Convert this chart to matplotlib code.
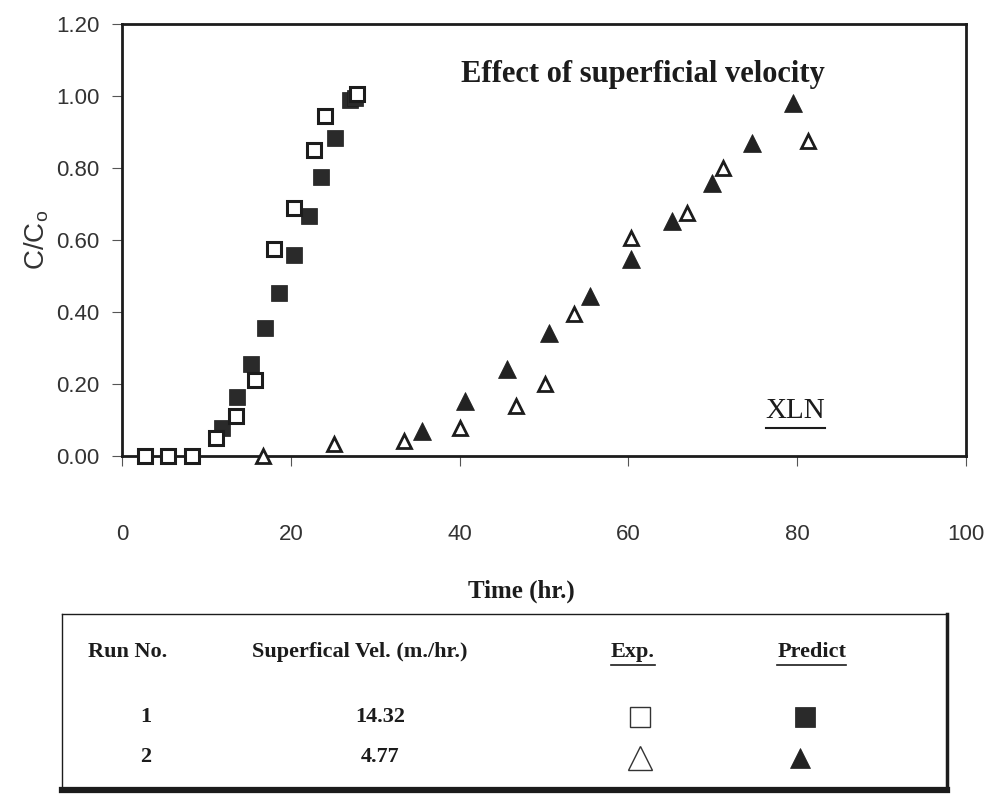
import numpy as np
import matplotlib
matplotlib.use("Agg")
import matplotlib.pyplot as plt
from matplotlib.lines import Line2D

# breakthrough data, C/Co vs time (hr.)
run1_exp_t = [2.7, 5.5, 8.3, 11.1, 13.5, 15.7, 18.0, 20.4, 22.7, 24.1, 27.8]
run1_exp_c = [0.00, 0.00, 0.00, 0.05, 0.11, 0.21, 0.575, 0.69, 0.85, 0.945, 1.005]
run1_pre_t = [8.3, 11.9, 13.6, 15.3, 17.0, 18.6, 20.4, 22.1, 23.6, 25.2, 27.0, 27.6]
run1_pre_c = [0.00, 0.078, 0.164, 0.255, 0.355, 0.453, 0.558, 0.667, 0.775, 0.883, 0.99, 0.995]
run2_exp_t = [16.7, 25.1, 33.4, 40.1, 46.7, 50.1, 53.6, 60.3, 67.0, 71.2, 81.3]
run2_exp_c = [0.00, 0.033, 0.042, 0.078, 0.139, 0.20, 0.394, 0.606, 0.675, 0.80, 0.875]
run2_pre_t = [35.6, 40.6, 45.6, 50.6, 55.5, 60.3, 65.2, 69.9, 74.7, 79.5]
run2_pre_c = [0.069, 0.153, 0.242, 0.342, 0.444, 0.547, 0.653, 0.758, 0.869, 0.98]

runs = ["1", "2"]
velocities = ["14.32", "4.77"]
xticks = [0, 20, 40, 60, 80, 100]
yticks = [0.0, 0.2, 0.4, 0.6, 0.8, 1.0, 1.2]

W, H = 987, 800
serif = "Liberation Serif"
sans = "Liberation Sans"
ink = "#1c1c1c"

fig = plt.figure(figsize=(W / 100, H / 100), dpi=100)


def fx(px):
    return px / W


def fy(py):
    return 1 - py / H


def underline(txt, gap=3, lw=1.3):
    fig.canvas.draw()
    bb = txt.get_window_extent()
    y = bb.y0 - gap
    fig.add_artist(Line2D([bb.x0 / W, bb.x1 / W], [y / H, y / H],
                          transform=fig.transFigure, color=ink, lw=lw))


# main plot
ax = fig.add_axes([fx(122), fy(456), fx(966) - fx(122), fy(24) - fy(456)])
ax.plot(run1_exp_t, run1_exp_c, ls="none", marker="s", ms=10, mew=2.2,
        mfc="white", mec=ink, zorder=3, clip_on=False)
ax.plot(run1_pre_t, run1_pre_c, ls="none", marker="s", ms=11.5, mew=0.5,
        mfc="#2a2a2a", mec=ink, zorder=2, clip_on=False)
ax.plot(run2_exp_t, run2_exp_c, ls="none", marker="^", ms=10, mew=2.0,
        mfc="white", mec=ink, zorder=3, clip_on=False)
ax.plot(run2_pre_t, run2_pre_c, ls="none", marker="^", ms=13, mew=0.5,
        mfc="#222222", mec=ink, zorder=2, clip_on=False)

ax.set_xlim(0, 100)
ax.set_ylim(0, 1.2)
ax.set_xticks(xticks)
ax.set_yticks(yticks)
ax.set_yticklabels(["%.2f" % v for v in yticks])
for s in ax.spines.values():
    s.set_linewidth(2.0)
    s.set_color(ink)
ax.tick_params(axis="y", direction="out", length=7, width=0.8, color="#555555",
               pad=9, labelsize=16, labelcolor="#333333")
ax.tick_params(axis="x", direction="out", length=7, width=0.8, color="#555555",
               pad=42, labelsize=16, labelcolor="#333333")
for lab in ax.get_xticklabels() + ax.get_yticklabels():
    lab.set_family(sans)

ax.set_ylabel("C/C$_\\mathregular{o}$", family=sans, fontsize=20,
              color="#333333", labelpad=4)
ax.text(0.617, 0.866, "Effect of superficial velocity", transform=ax.transAxes,
        ha="center", va="baseline", family=serif, weight="bold", fontsize=22,
        color=ink)
xln = ax.text(0.798, 0.088, "XLN", transform=ax.transAxes, ha="center",
              va="baseline", family=serif, fontsize=21, color=ink)

fig.text(fx(521), fy(598), "Time (hr.)", ha="center", va="baseline",
         family=serif, weight="bold", fontsize=18, color=ink)

# key table below the plot
tb = fig.add_axes([fx(62), fy(790), fx(947) - fx(62), fy(614) - fy(790)])
tb.set_xlim(62, 947)
tb.set_ylim(790, 614)
tb.set_xticks([])
tb.set_yticks([])
tb.spines["top"].set_linewidth(1.0)
tb.spines["left"].set_linewidth(1.0)
tb.spines["right"].set_linewidth(2.5)
tb.spines["bottom"].set_linewidth(4.5)
for s in tb.spines.values():
    s.set_color(ink)

hdr = dict(va="center", ha="center", family=serif, weight="bold",
           fontsize=16, color=ink)
tb.text(128, 652, "Run No.", **hdr)
tb.text(360, 652, "Superfical Vel. (m./hr.)", **hdr)
exp_t = tb.text(633, 652, "Exp.", **hdr)
pre_t = tb.text(812, 652, "Predict", **hdr)

row_y = [717, 757]
for r, v, yy in zip(runs, velocities, row_y):
    tb.text(146, yy, r, **hdr)
    tb.text(380, yy, v, **hdr)

tb.plot([640], [row_y[0]], ls="none", marker="s", ms=15, mew=1.0,
        mfc="white", mec="#333333")
tb.plot([805], [row_y[0]], ls="none", marker="s", ms=14, mew=0.5,
        mfc="#2a2a2a", mec=ink)
tb.plot([640], [row_y[1] + 1], ls="none", marker="^", ms=17, mew=1.0,
        mfc="white", mec="#333333")
tb.plot([800], [row_y[1] + 1], ls="none", marker="^", ms=15, mew=0.5,
        mfc="#222222", mec=ink)

underline(xln, gap=4, lw=1.5)
underline(exp_t, gap=3, lw=1.2)
underline(pre_t, gap=3, lw=1.2)

fig.savefig("out.png", dpi=100)
